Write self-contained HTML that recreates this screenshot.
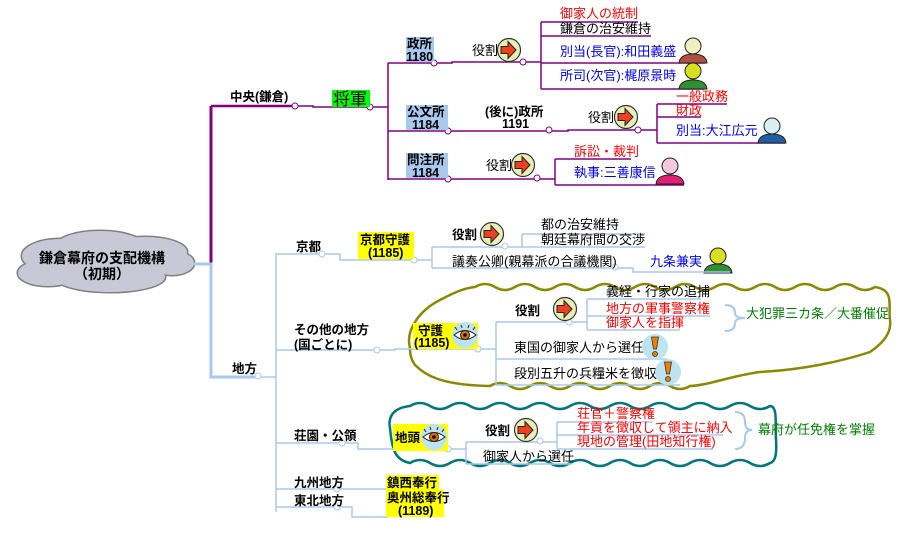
<!DOCTYPE html>
<html><head><meta charset="utf-8"><style>
html,body{margin:0;padding:0;background:#fff}
svg{display:block}
text{font-family:"Liberation Sans","Noto Sans CJK JP",sans-serif;font-size:13px}
.b{font-weight:bold;font-size:12.5px}
.r{fill:#ff0000}.u{fill:#0000ee}.g{fill:#008000}
</style></head><body>
<svg width="910" height="536" viewBox="0 0 910 536" xmlns="http://www.w3.org/2000/svg">
<defs>
<g id="arr"><circle r="11.5" fill="#e6efb4" stroke="#333" stroke-width="1.2"/><path d="M-8,-3.5 h7 v-5 l8,8.5 l-8,8.5 v-5 h-7z" fill="#f04020" stroke="#222" stroke-width="1"/></g>
<g id="eye"><circle r="13" fill="#bde3f0"/><path d="M-11,0 Q0,-9 11,0 Q0,9 -11,0z" fill="#fff" stroke="#222"/><circle r="4.5" fill="#e07000" stroke="#222"/><circle r="1.8" fill="#000"/><path d="M-8,-5 l-2,-3 M-3,-7 l-1,-3 M3,-7 l1,-3 M8,-5 l2,-3" stroke="#222"/></g>
<g id="exc"><circle r="13" fill="#bde3f0"/><path d="M-3.5,-10 h7 l-2,12 h-3z" fill="#f08000" stroke="#333" stroke-width=".8"/><circle cy="7" r="2.5" fill="#f08000" stroke="#333" stroke-width=".8"/></g>
</defs>

<g stroke="#808080" stroke-width="3" fill="#c8c8d6">
<ellipse cx="60" cy="256" rx="38" ry="17"/><ellipse cx="100" cy="247" rx="45" ry="16"/><ellipse cx="145" cy="252" rx="42" ry="15"/><ellipse cx="172" cy="263" rx="22" ry="12"/><ellipse cx="110" cy="277" rx="55" ry="15"/><ellipse cx="48" cy="273" rx="30" ry="13"/>
</g>
<g fill="#c8c8d6">
<ellipse cx="60" cy="256" rx="38" ry="17"/><ellipse cx="100" cy="247" rx="45" ry="16"/><ellipse cx="145" cy="252" rx="42" ry="15"/><ellipse cx="172" cy="263" rx="22" ry="12"/><ellipse cx="110" cy="277" rx="55" ry="15"/><ellipse cx="48" cy="273" rx="30" ry="13"/>
</g>
<text x="102" y="263" text-anchor="middle" class="b" style="font-size:14px">鎌倉幕府の支配機構</text>
<text x="102" y="279" text-anchor="middle" class="b" style="font-size:14px">（初期）</text>

<g stroke="#800080" fill="none" stroke-width="1.5">
<path d="M211,264 V106" stroke-width="3"/>
<path d="M211,106 H295" stroke-width="2.5"/>
<path d="M295,106 H313 V107 H370 H388"/>
<path d="M388,63 V180 M388,63 H434 M388,131 H448 M388,179 H448"/>
<path d="M434,63 H452 V62 H523 H541 M541,22 V89 M541,22 H638 M541,36 H651 M541,63 H705 M541,89 H704"/>
<path d="M448,131 H549 H568 V130 H638 H657 M657,104 V143 M657,104 H727 M657,117 H701 M657,143 H785"/>
<path d="M448,179 H538 H555 M555,159 V185 M555,159 H631 M555,185 H684"/>
</g>
<g stroke="#800080" fill="#fff" stroke-width="1"><circle cx="295" cy="106" r="3"/><circle cx="370" cy="107" r="3"/><circle cx="434" cy="63" r="3"/><circle cx="523" cy="62" r="3"/><circle cx="448" cy="131" r="3"/><circle cx="549" cy="130" r="3"/><circle cx="638" cy="130" r="3"/><circle cx="448" cy="179" r="3"/><circle cx="537" cy="178" r="3"/></g>

<text x="230" y="101" class="b">中央(鎌倉)</text>
<rect x="332" y="90" width="38" height="17" fill="#00ff00"/>
<text x="333" y="105" style="font-size:17px">将軍</text>

<rect x="406" y="37" width="28" height="25" fill="#a8c8ee"/>
<text x="407" y="48" class="b">政所</text><text x="406" y="61" class="b">1180</text>
<text x="472" y="55">役割</text><use href="#arr" x="509" y="50"/>
<text x="560" y="18" class="r">御家人の統制</text>
<text x="560" y="33">鎌倉の治安維持</text>
<text x="560" y="56" class="u">別当(長官):和田義盛</text>
<text x="560" y="80" class="u">所司(次官):梶原景時</text>

<rect x="406" y="105" width="42" height="25" fill="#a8c8ee"/>
<text x="407" y="116" class="b">公文所</text><text x="412" y="129" class="b">1184</text>
<text x="485" y="116" class="b">(後に)政所</text><text x="502" y="128" class="b">1191</text>
<text x="588" y="122">役割</text><use href="#arr" x="626" y="117"/>
<text x="676" y="101" class="r">一般政務</text>
<text x="676" y="115" class="r">財政</text>
<text x="676" y="135" class="u">別当:大江広元</text>

<rect x="406" y="153" width="42" height="25" fill="#a8c8ee"/>
<text x="407" y="164" class="b">問注所</text><text x="412" y="177" class="b">1184</text>
<text x="486" y="170">役割</text><use href="#arr" x="523" y="165"/>
<text x="574" y="156" class="r">訴訟・裁判</text>
<text x="574" y="177" class="u">執事:三善康信</text>

<g stroke="#222" stroke-width="1">
<circle cx="693" cy="46" r="8" fill="#eef0c0"/><path d="M679,63 Q680,54 693,54 Q706,54 707,63z" fill="#b05040"/>
<circle cx="693" cy="71" r="8" fill="#d8e020"/><path d="M679,89 Q680,80 693,80 Q706,80 707,89z" fill="#309030"/>
<circle cx="772" cy="126" r="8" fill="#d8eef0"/><path d="M758,143 Q759,134 772,134 Q785,134 786,143z" fill="#2060a0"/>
<circle cx="670" cy="166" r="8" fill="#f4c8dc"/><path d="M656,184 Q657,175 670,175 Q683,175 684,184z" fill="#e02070"/>
<circle cx="718" cy="256" r="8" fill="#d8e020"/><path d="M704,273 Q705,264 718,264 Q731,264 732,273z" fill="#309030"/>
</g>

<path d="M410,348 C405,330 420,310 440,300 C455,292 465,288 475,287 q10,-6 20,0 t20,0 t20,0 t20,0 t20,0 t20,0 t20,0 t20,0 t20,0 t20,0 t20,0 t20,0 t20,0 t20,0 t20,0 t20,0 t20,0 t20,0 t20,0 t20,0 C895,290 888,305 890,320 C892,335 880,345 870,352 C840,362 800,370 760,372 C730,376 710,385 690,386 q-10,6 -20,0 t-20,0 t-20,0 t-20,0 t-20,0 t-20,0 t-20,0 t-20,0 t-20,0 t-20,0 C440,385 425,375 415,365 C410,358 410,352 410,348z" fill="none" stroke="#8a8a00" stroke-width="2.5"/>
<path d="M390,428 C388,418 392,408 410,406 q10,-6 20,0 t20,0 t20,0 t20,0 t20,0 t20,0 t20,0 t20,0 t20,0 t20,0 t20,0 t20,0 t20,0 t20,0 t20,0 t20,0 t20,0 t20,0 C778,406 775,425 776,440 C777,455 775,462 770,463 q-10,6 -20,0 t-20,0 t-20,0 t-20,0 t-20,0 t-20,0 t-20,0 t-20,0 t-20,0 t-20,0 t-20,0 t-20,0 t-20,0 t-20,0 t-20,0 t-20,0 t-20,0 t-20,0 C395,460 392,450 390,428z" fill="none" stroke="#007878" stroke-width="2.5"/>

<g stroke="#a8c8f0" fill="none" stroke-width="1.5">
<path d="M193,264 H211 V377 H258" stroke-width="3"/>
<path d="M258,377 H276 M276,253 V512 M276,254 H322 H340 V260 H414 H432 M432,247 V268 M432,247 H505 H522 M522,234 V247 M522,234 H645 M522,247 H645 M432,268 H615 H633 V272 H730"/>
<path d="M276,350 H377 H395 V349 H478 H496 M496,322 V385 M496,322 H569 H587 M587,299 V330 M587,299 H701 M587,316 H710 M587,330 H680 M496,359 H667 M496,385 H680"/>
<path d="M276,443 H342 H358 V449 H448 H466 M466,442 V464 M466,442 H540 H557 M557,422 V449 M557,422 H653 M557,435 H723 M557,449 H713 M466,464 H572"/>
<path d="M276,489 H337 H352 V489 H388 M276,507 H337 H352 V517 H388"/>
<path d="M725,305 Q735,305 735,313 Q735,318 745,318 Q735,318 735,323 Q735,331 725,331" stroke-width="2"/>
<path d="M735,412 Q745,412 745,422 Q745,430 752,430 Q745,430 745,438 Q745,449 735,449" stroke-width="2"/>
</g>
<g stroke="#a8c8f0" fill="#fff" stroke-width="1"><circle cx="258" cy="376" r="3"/><circle cx="322" cy="254" r="3"/><circle cx="414" cy="260" r="3"/><circle cx="505" cy="246" r="3"/><circle cx="615" cy="267" r="3"/><circle cx="377" cy="350" r="3"/><circle cx="478" cy="349" r="3"/><circle cx="569" cy="322" r="3"/><circle cx="342" cy="443" r="3"/><circle cx="448" cy="449" r="3"/><circle cx="540" cy="441" r="3"/><circle cx="337" cy="489" r="3"/><circle cx="337" cy="507" r="3"/></g>

<text x="232" y="373" class="b">地方</text>
<text x="296" y="251" class="b">京都</text>
<rect x="358" y="232" width="56" height="27" fill="#ffff00"/>
<text x="360" y="244" class="b">京都守護</text><text x="368" y="257" class="b">(1185)</text>
<text x="452" y="239" class="b">役割</text><use href="#arr" x="492" y="234"/>
<text x="541" y="229">都の治安維持</text>
<text x="541" y="244">朝廷幕府間の交渉</text>
<text x="452" y="266">議奏公卿(親幕派の合議機関)</text>
<text x="650" y="266" class="u">九条兼実</text>

<text x="294" y="334" class="b">その他の地方</text>
<text x="294" y="349" class="b">(国ごとに)</text>
<rect x="413" y="323" width="65" height="26" fill="#ffff00"/>
<text x="418" y="335" class="b">守護</text><text x="414" y="347" class="b">(1185)</text>
<use href="#eye" x="465" y="335"/>
<text x="515" y="315" class="b">役割</text><use href="#arr" x="565" y="309"/>
<text x="606" y="296">義経・行家の追捕</text>
<text x="606" y="313" class="r">地方の軍事警察権</text>
<text x="606" y="327" class="r">御家人を指揮</text>
<text x="746" y="318" class="g">大犯罪三カ条／大番催促</text>
<text x="514" y="352">東国の御家人から選任</text>
<use href="#exc" x="655" y="347"/>
<text x="514" y="378">段別五升の兵糧米を徴収</text>
<use href="#exc" x="668" y="372"/>

<text x="294" y="440" class="b">荘園・公領</text>
<rect x="393" y="424" width="55" height="27" fill="#ffff00"/>
<text x="395" y="442" class="b">地頭</text><use href="#eye" x="434" y="437"/>
<text x="485" y="435" class="b">役割</text><use href="#arr" x="526" y="430"/>
<text x="577" y="418" class="r">荘官＋警察権</text>
<text x="577" y="432" class="r">年貢を徴収して領主に納入</text>
<text x="577" y="446" class="r">現地の管理(田地知行権)</text>
<text x="758" y="434" class="g">幕府が任免権を掌握</text>
<text x="483" y="461">御家人から選任</text>

<text x="294" y="487" class="b">九州地方</text>
<text x="294" y="505" class="b">東北地方</text>
<rect x="386" y="475" width="53" height="15" fill="#ffff00"/>
<text x="387" y="487" class="b">鎮西奉行</text>
<rect x="386" y="490" width="58" height="27" fill="#ffff00"/>
<text x="387" y="502" class="b">奥州総奉行</text><text x="398" y="515" class="b">(1189)</text>
</svg>
</body></html>
